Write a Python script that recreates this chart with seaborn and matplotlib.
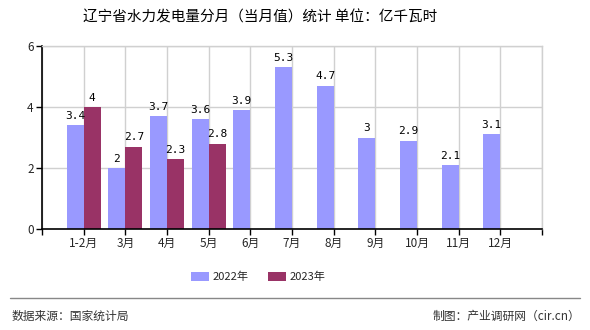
import numpy as np
import pandas as pd
import matplotlib
matplotlib.use("Agg")
import matplotlib.pyplot as plt
from matplotlib.lines import Line2D
from matplotlib.patches import Patch
import seaborn as sns

months = ["1-2月", "3月", "4月", "5月", "6月", "7月", "8月", "9月", "10月", "11月", "12月"]
values_2022 = [3.4, 2, 3.7, 3.6, 3.9, 5.3, 4.7, 3, 2.9, 2.1, 3.1]
months_2023 = ["1-2月", "3月", "4月", "5月"]
values_2023 = [4, 2.7, 2.3, 2.8]
series = ["2022年", "2023年"]
colors = ["#9999FF", "#993366"]

df = pd.concat([
    pd.DataFrame({"月份": months, "值": values_2022, "年份": series[0]}),
    pd.DataFrame({"月份": months_2023, "值": values_2023, "年份": series[1]}),
], ignore_index=True)

sns.set_style("white")
plt.rcParams["font.family"] = ["Noto Sans CJK SC", "DejaVu Sans"]

W, H = 590, 330
fig = plt.figure(figsize=(W / 100, H / 100), dpi=100)
ax = fig.add_axes([42 / W, 1 - 229 / H, 500 / W, 183 / H])

sns.barplot(data=df, x="月份", y="值", hue="年份", order=months,
            hue_order=series, palette=colors, width=0.82, saturation=1,
            dodge=True, legend=False, linewidth=0, edgecolor="none", ax=ax)

for cont in ax.containers:
    ax.bar_label(cont, fmt="%g", padding=3, fontsize=8,
                 family=["DejaVu Sans Mono"], color="#000")

ax.set_xlim(-1, 11)
ax.set_ylim(0, 6)
ax.set_yticks([0, 2, 4, 6])
ax.set_xticks(range(-1, 12))
ax.set_xticklabels([""] + months + [""], fontsize=8.5)
ax.tick_params(axis="y", labelsize=8.5, length=4, width=1, color="#000", pad=2, direction="out", left=True)
ax.tick_params(axis="x", length=4, width=1, color="#000", pad=2, direction="out", bottom=True)
ax.set_xlabel("")
ax.set_ylabel("")
ax.grid(True, color="#d0d0d0", lw=1)
ax.set_axisbelow(True)
for s in ["top", "right"]:
    ax.spines[s].set_color("#d0d0d0")
    ax.spines[s].set_linewidth(1)
for s in ["left", "bottom"]:
    ax.spines[s].set_color("#000")
    ax.spines[s].set_linewidth(1.2)

fig.text(260 / W, 1 - 17 / H, "辽宁省水力发电量分月（当月值）统计 单位：亿千瓦时",
         ha="center", va="center", fontsize=10.5, color="#000")

handles = [Patch(facecolor=c, edgecolor="none") for c in colors]
fig.legend(handles, series, loc="center", bbox_to_anchor=(258 / W, 1 - 277 / H),
           ncol=2, frameon=False, fontsize=8, handlelength=1.6, handleheight=0.9,
           columnspacing=1.8, handletextpad=0.3)

fig.add_artist(Line2D([10 / W, 580 / W], [1 - 298 / H] * 2, color="#888888", lw=1))
fig.text(12 / W, 1 - 316 / H, "数据来源：国家统计局", ha="left", va="center",
         fontsize=8.5, color="#333")
fig.text(580 / W, 1 - 316 / H, "制图：产业调研网（cir.cn）", ha="right", va="center",
         fontsize=8.5, color="#333")

fig.savefig("out.png", dpi=100)
